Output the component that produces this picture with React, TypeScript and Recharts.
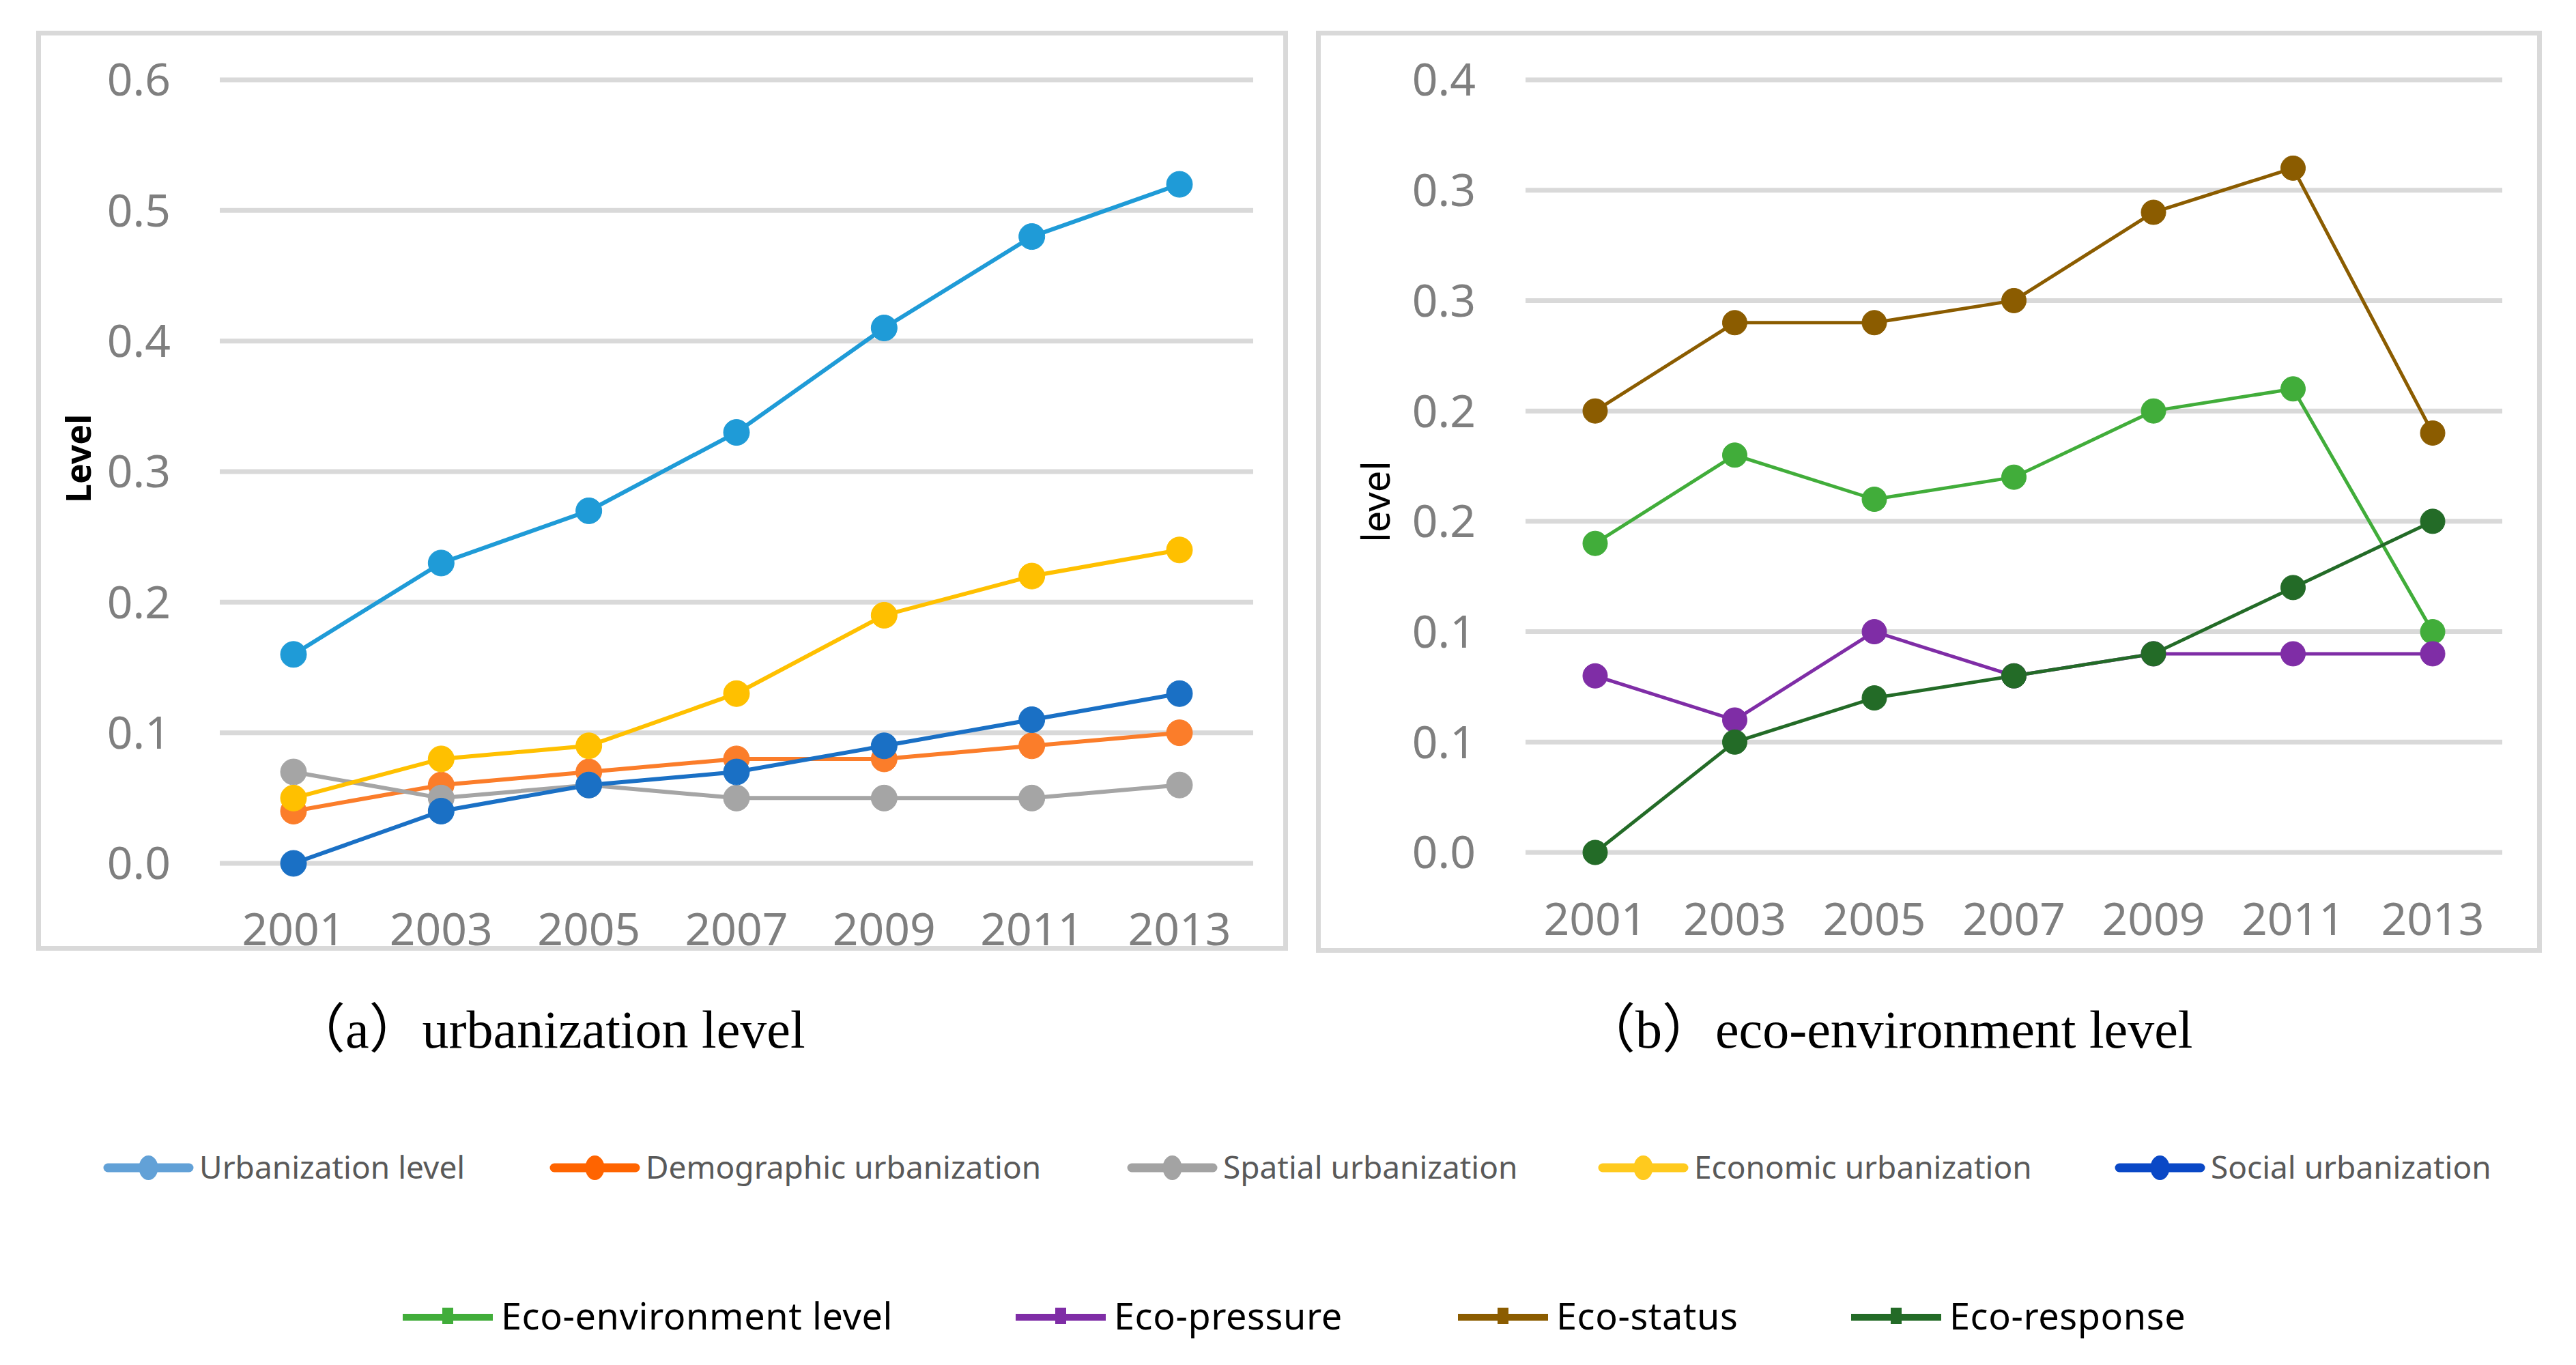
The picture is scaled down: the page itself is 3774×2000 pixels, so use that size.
import React from 'react';
import { LineChart, Line, XAxis, YAxis, CartesianGrid } from 'recharts';

// ---------- data ----------
const years = ['2001', '2003', '2005', '2007', '2009', '2011', '2013'];

const urbanizationLevel = [0.16, 0.23, 0.27, 0.33, 0.41, 0.48, 0.52];
const demographicUrbanization = [0.04, 0.06, 0.07, 0.08, 0.08, 0.09, 0.1];
const spatialUrbanization = [0.07, 0.05, 0.06, 0.05, 0.05, 0.05, 0.06];
const economicUrbanization = [0.05, 0.08, 0.09, 0.13, 0.19, 0.22, 0.24];
const socialUrbanization = [0.0, 0.04, 0.06, 0.07, 0.09, 0.11, 0.13];

const ecoEnvironmentLevel = [0.14, 0.18, 0.16, 0.17, 0.2, 0.21, 0.1];
const ecoPressure = [0.08, 0.06, 0.1, 0.08, 0.09, 0.09, 0.09];
const ecoStatus = [0.2, 0.24, 0.24, 0.25, 0.29, 0.31, 0.19];
const ecoResponse = [0.0, 0.05, 0.07, 0.08, 0.09, 0.12, 0.15];

const leftTicks = [0, 0.1, 0.2, 0.3, 0.4, 0.5, 0.6];
const leftTickLabels = ['0.0', '0.1', '0.2', '0.3', '0.4', '0.5', '0.6'];
const rightTicks = [0, 0.05, 0.1, 0.15, 0.2, 0.25, 0.3, 0.35];
const rightTickLabels = ['0.0', '0.1', '0.1', '0.2', '0.2', '0.3', '0.3', '0.4'];

const captionA = '（a）urbanization level';
const captionB = '（b）eco-environment level';
const leftAxisTitle = 'Level';
const rightAxisTitle = 'level';

// ---------- series config ----------
const leftSeries = [
  { key: 'urb', name: 'Urbanization level', values: urbanizationLevel, color: '#1F9BD7', legendColor: '#62A1D7' },
  { key: 'demo', name: 'Demographic urbanization', values: demographicUrbanization, color: '#FB7D2A', legendColor: '#FF6400' },
  { key: 'spatial', name: 'Spatial urbanization', values: spatialUrbanization, color: '#A5A5A5', legendColor: '#A3A3A3' },
  { key: 'econ', name: 'Economic urbanization', values: economicUrbanization, color: '#FFC000', legendColor: '#FFCA1E' },
  { key: 'social', name: 'Social urbanization', values: socialUrbanization, color: '#1A70C5', legendColor: '#0A48C6' },
];
const rightSeries = [
  { key: 'env', name: 'Eco-environment level', values: ecoEnvironmentLevel, color: '#41AD3A', legendColor: '#41AD3A' },
  { key: 'pressure', name: 'Eco-pressure', values: ecoPressure, color: '#7F2DA6', legendColor: '#7F2DA6' },
  { key: 'status', name: 'Eco-status', values: ecoStatus, color: '#8B5C00', legendColor: '#8B5C00' },
  { key: 'response', name: 'Eco-response', values: ecoResponse, color: '#236B27', legendColor: '#236B27' },
];

const leftData = years.map((year, i) => {
  const row: any = { year };
  leftSeries.forEach((s) => (row[s.key] = s.values[i]));
  return row;
});
const rightData = years.map((year, i) => {
  const row: any = { year };
  rightSeries.forEach((s) => (row[s.key] = s.values[i]));
  return row;
});

// ---------- layout ----------
const legendRow1 = { y: 1711, baseline: 1727, iconX: [152, 806, 1652, 2342, 3099], iconW: 131, textGap: 9 };
const legendRow2 = { y: 1930, baseline: 1948, iconX: [590, 1488, 2136, 2712], iconW: 132, textGap: 12 };
const extraBottom = 50;

const tickStyle = { fontFamily: "'Noto Sans', 'Open Sans', sans-serif", fontSize: 66, fill: '#7F7F7F' };
const gridColor = '#D9D9D9';

function Panel({ left, top, width, height }: { left: number; top: number; width: number; height: number }) {
  return (
    <div
      style={{
        position: 'absolute',
        left,
        top,
        width,
        height,
        boxSizing: 'border-box',
        border: `7px solid ${gridColor}`,
      }}
    />
  );
}

export default function App() {
  return (
    <div style={{ position: 'absolute', left: 0, top: 0, width: 3774, height: 2000, background: '#fff', overflow: 'hidden' }}>
      <Panel left={53} top={45} width={1834} height={1348} />
      <Panel left={1928} top={45} width={1796} height={1351} />

      <div style={{ position: 'absolute', left: 53, top: 45 }}>
        <LineChart
          width={1834}
          height={1348 + extraBottom}
          data={leftData}
          margin={{ top: 72, right: 51, left: 0, bottom: extraBottom }}
        >
          <CartesianGrid vertical={false} stroke={gridColor} strokeWidth={7} />
          <XAxis
            dataKey="year"
            axisLine={false}
            tickLine={false}
            tickSize={0}
            tickMargin={73}
            height={128}
            interval={0}
            padding={{ left: 108, right: 108 }}
            tick={tickStyle}
          />
          <YAxis
            domain={[0, 0.6]}
            ticks={leftTicks}
            interval={0}
            axisLine={false}
            tickLine={false}
            tickSize={0}
            tickMargin={72}
            width={269}
            tick={tickStyle}
            tickFormatter={(v: number, i: number) => leftTickLabels[i] ?? String(v)}
          />
          {leftSeries.map((s) => (
            <Line
              key={s.key}
              dataKey={s.key}
              name={s.name}
              type="linear"
              stroke={s.color}
              strokeWidth={6}
              dot={{ r: 19, fill: s.color, stroke: s.color, strokeWidth: 1 }}
              activeDot={false}
              isAnimationActive={false}
            />
          ))}
        </LineChart>
      </div>

      <div style={{ position: 'absolute', left: 1928, top: 45 }}>
        <LineChart
          width={1796}
          height={1351 + extraBottom}
          data={rightData}
          margin={{ top: 72, right: 58, left: 0, bottom: extraBottom }}
        >
          <CartesianGrid vertical={false} stroke={gridColor} strokeWidth={7} />
          <XAxis
            dataKey="year"
            axisLine={false}
            tickLine={false}
            tickSize={0}
            tickMargin={74}
            height={147}
            interval={0}
            padding={{ left: 102, right: 102 }}
            tick={tickStyle}
          />
          <YAxis
            domain={[0, 0.35]}
            ticks={rightTicks}
            interval={0}
            axisLine={false}
            tickLine={false}
            tickSize={0}
            tickMargin={73}
            width={307}
            tick={tickStyle}
            tickFormatter={(v: number, i: number) => rightTickLabels[i] ?? String(v)}
          />
          {rightSeries.map((s) => (
            <Line
              key={s.key}
              dataKey={s.key}
              name={s.name}
              type="linear"
              stroke={s.color}
              strokeWidth={5}
              dot={{ r: 18, fill: s.color, stroke: s.color, strokeWidth: 1 }}
              activeDot={false}
              isAnimationActive={false}
            />
          ))}
        </LineChart>
      </div>

      <svg width={3774} height={2000} style={{ position: 'absolute', left: 0, top: 0, pointerEvents: 'none' }}>
        <text
          x={114}
          y={672}
          transform="rotate(-90 114 672)"
          textAnchor="middle"
          dominantBaseline="central"
          fontFamily="'Noto Sans', sans-serif"
          fontWeight="bold"
          fontSize={50}
          fill="#000"
        >
          {leftAxisTitle}
        </text>
        <text
          x={2014}
          y={735}
          transform="rotate(-90 2014 735)"
          textAnchor="middle"
          dominantBaseline="central"
          fontFamily="'Noto Sans', sans-serif"
          fontSize={56}
          fill="#000"
        >
          {rightAxisTitle}
        </text>

        <text x={428} y={1535} fontFamily="'Liberation Serif', 'Noto Sans CJK SC', serif" fontSize={78} fill="#000">
          {captionA}
        </text>
        <text x={2318} y={1535} fontFamily="'Liberation Serif', 'Noto Sans CJK SC', serif" fontSize={78} fill="#000">
          {captionB}
        </text>

        {leftSeries.map((s, i) => {
          const x0 = legendRow1.iconX[i];
          const cx = x0 + legendRow1.iconW / 2;
          return (
            <g key={s.key}>
              <line
                x1={x0 + 6}
                x2={x0 + legendRow1.iconW - 6}
                y1={legendRow1.y}
                y2={legendRow1.y}
                stroke={s.legendColor}
                strokeWidth={13}
                strokeLinecap="round"
              />
              <ellipse cx={cx} cy={legendRow1.y} rx={14} ry={18} fill={s.legendColor} />
              <text
                x={x0 + legendRow1.iconW + legendRow1.textGap}
                y={legendRow1.baseline}
                fontFamily="'Noto Sans', sans-serif"
                fontSize={46}
                fill="#595959"
              >
                {s.name}
              </text>
            </g>
          );
        })}

        {rightSeries.map((s, i) => {
          const x0 = legendRow2.iconX[i];
          const cx = x0 + legendRow2.iconW / 2;
          return (
            <g key={s.key}>
              <line
                x1={x0}
                x2={x0 + legendRow2.iconW}
                y1={legendRow2.y}
                y2={legendRow2.y}
                stroke={s.legendColor}
                strokeWidth={10}
              />
              <rect x={cx - 8} y={legendRow2.y - 14} width={16} height={24} fill={s.legendColor} />
              <text
                x={x0 + legendRow2.iconW + legendRow2.textGap}
                y={legendRow2.baseline}
                fontFamily="'Noto Sans', sans-serif"
                fontSize={54}
                letterSpacing={0.6}
                fill="#000"
              >
                {s.name}
              </text>
            </g>
          );
        })}
      </svg>
    </div>
  );
}
